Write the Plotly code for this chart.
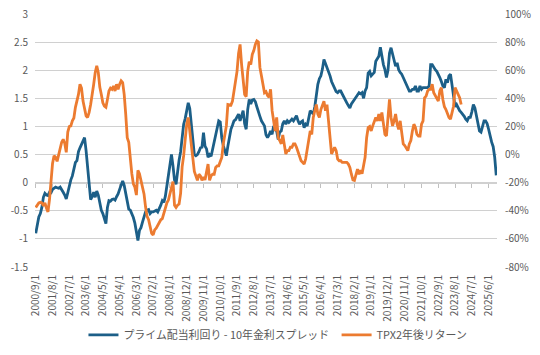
import plotly.graph_objects as go
import pandas as pd

# プライム配当利回り - 10年金利スプレッド (monthly, 2000/9 -)
spread = [
    -0.90, -0.75, -0.61, -0.55, -0.44, -0.26, -0.19, -0.22, -0.23, -0.17,
    -0.18, -0.12, -0.10, -0.08, -0.09, -0.10, -0.08, -0.14, -0.17, -0.22,
    -0.29, -0.18, -0.05, 0.05, 0.12, 0.25, 0.36, 0.39, 0.55, 0.62,
    0.68, 0.74, 0.80, 0.57, 0.27, -0.14, -0.30, -0.25, -0.17, -0.26,
    -0.15, -0.22, -0.38, -0.49, -0.55, -0.65, -0.73, -0.44, -0.32, -0.33,
    -0.30, -0.29, -0.31, -0.25, -0.20, -0.12, -0.05, 0.03, -0.05, -0.20,
    -0.35, -0.47, -0.49, -0.55, -0.62, -0.72, -0.85, -1.03, -0.85, -0.80,
    -0.70, -0.60, -0.52, -0.49, -0.48, -0.55, -0.52, -0.52, -0.50, -0.49,
    -0.52, -0.47, -0.40, -0.32, -0.35, -0.24, -0.05, 0.12, 0.27, 0.50,
    0.30, 0.05, -0.03, 0.25, 0.40, 0.55, 0.80, 1.04, 1.14, 1.26,
    1.42, 1.32, 1.08, 0.85, 0.50, 0.48, 0.50, 0.55, 0.62, 0.63,
    0.89, 0.65, 0.60, 0.45, 0.50, 0.47, 0.60, 0.75, 0.82, 0.98,
    1.10, 1.08, 0.80, 0.66, 0.57, 0.48, 0.65, 0.82, 0.95, 1.02,
    1.10, 1.12, 1.16, 1.22, 1.10, 1.22, 1.28, 1.05, 0.95, 1.30,
    1.48, 1.40, 1.47, 1.48, 1.44, 1.35, 1.28, 1.18, 1.10, 1.04,
    1.01, 0.85, 0.80, 0.85, 0.92, 0.86, 1.01, 0.95, 0.92, 0.77,
    0.90, 0.92, 1.05, 1.10, 1.04, 1.10, 1.07, 1.10, 1.13, 1.10,
    1.16, 1.19, 1.10, 1.04, 1.08, 1.10, 0.98, 1.04, 1.01, 1.16,
    1.28, 1.25, 1.22, 1.35, 1.55, 1.75, 1.85, 1.90, 2.02, 2.19,
    2.12, 2.05, 1.98, 1.90, 1.80, 1.74, 1.66, 1.62, 1.60, 1.63,
    1.63, 1.57, 1.52, 1.46, 1.42, 1.37, 1.33, 1.40, 1.45, 1.48,
    1.52, 1.57, 1.60, 1.58, 1.60, 1.50, 1.63, 1.69, 1.95, 1.98,
    1.90, 1.93, 1.96, 2.16, 2.22, 2.25, 2.41, 2.25, 2.10, 2.01,
    1.87, 2.00, 2.30, 2.40, 2.30, 2.16, 2.07, 2.13, 2.01, 1.96,
    1.93, 1.87, 1.81, 1.75, 1.66, 1.63, 1.63, 1.66, 1.66, 1.72,
    1.63, 1.63, 1.72, 1.66, 1.69, 1.69, 1.69, 1.69, 1.72, 2.10,
    2.10, 2.04, 2.01, 1.98, 1.93, 1.87, 1.80, 1.72, 1.69, 1.84,
    1.78, 1.90, 1.93, 1.75, 1.55, 1.35, 1.39, 1.33, 1.28, 1.25,
    1.22, 1.18, 1.13, 1.10, 1.16, 1.16, 1.26, 1.39, 1.33, 1.18,
    1.05, 0.92, 0.90, 1.01, 1.10, 1.10, 1.05, 0.95, 0.80, 0.72,
    0.64, 0.45, 0.13,
]

# TPX2年後リターン (%), monthly, 2000/9 -
tpx = [
    -37.6, -36, -34.4, -34, -34.4, -36.4, -34.4, -38, -40.8, -32,
    -18, -6.4, -0.8, -2, -4.8, 0, 6.4, 8.8, 10.8, 8,
    1.6, 16, 20, 20.4, 24, 26, 33.6, 38, 42.8, 50,
    47.2, 38, 31.2, 27.6, 26.4, 30, 35.6, 42, 50, 58.4,
    63.2, 58.4, 48, 42.8, 36.8, 34.4, 33.6, 39.2, 45.2, 47.2,
    46.4, 48.8, 45.2, 50, 46.4, 50, 52.4, 51.2, 42.8, 28.8,
    12, 8.8, -6, -13.6, -20.8, -23.2, -28.8, -11.2, -13.6, -18,
    -23.2, -28, -37.2, -44, -46.4, -51.2, -56, -57.2, -53.6, -52.4,
    -50, -47.6, -46.4, -45.6, -42, -37.2, -34.4, -32.4, -28, -22,
    -19.2, -36, -37.6, -36, -35.2, -27.6, -8.8, -0.8, 12, 21.6,
    26.4, 16.8, 8, -2, -12, -15.2, -18.4, -14, -15.2, -18.4,
    -16, -18, -11.6, -6.8, -18.4, -15.2, -14, -14, -9.2, -8,
    -8, -5.6, -2, 7.6, 14.4, 20.4, 35.6, 35.6, 35.2, 38,
    45.2, 54.8, 59.2, 72, 78.4, 64, 50, 42.8, 41.2, 59.2,
    66, 64, 71.2, 74, 78.4, 80.8, 80, 62, 56, 50,
    44, 44.8, 42, 40.8, 46.4, 31.2, 24, 16.8, 26.4, 12,
    10, 7.6, 14, 8, 0.4, 2.8, 2.8, 5.2, 5.2, 7.6,
    7.6, 5.2, 1.6, -2, -4.4, -5.6, -6.8, -3.2, 2.8, 10,
    16.8, 14.4, 26.4, 31.2, 35.6, 28.8, 26.4, 32, 35.6, 38,
    31.2, 35.6, 24, 12, 0.4, 2.8, 5.2, 2.8, -3.2, -4.4,
    -4.4, -5.6, -5.6, -5.6, -5.6, -6.8, -9.2, -14, -18, -18.4,
    -14, -10.4, -14, -11.2, -13.6, -6.8, -2, 12, 19.2, 20,
    16.8, 20.4, 24, 26.4, 24, 28.8, 24, 30, 22, 14.4,
    13.2, 24, 39.2, 26.4, 20.4, 24, 28.8, 21.6, 18, 24,
    14.4, 7.6, 6.4, 4, 2.8, 7.6, 10, 16.8, 21.6, 19.2,
    14.4, 13.2, 13.2, 21.6, 24, 40.4, 41.6, 45.2, 46.4, 46.4,
    50, 44, 42, 40.4, 38, 45.2, 47.6, 39.2, 34, 32,
    28.8, 26.4, 25.2, 31.2, 34.4, 47.6, 45.2, 42.8, 40.4, 35.6,
]

dates = [f"{d.year}/{d.month}/1" for d in pd.date_range("2000-09-01", periods=len(spread), freq="MS")]
tick_labels = dates[::11]

left_ticks = [3, 2.5, 2, 1.5, 1, 0.5, 0, -0.5, -1, -1.5]
right_ticks = [100, 80, 60, 40, 20, 0, -20, -40, -60, -80]

BLUE = "#1c5f88"
ORANGE = "#ec7b30"
GRID = "#d0d0d0"
TXT = "#595959"
FONT = "Noto Sans CJK JP"

fig = go.Figure()
# invisible helper trace for the category axis drawn at the zero line
fig.add_trace(go.Scatter(x=dates, y=spread, xaxis="x2", yaxis="y", mode="lines",
                         line=dict(width=0), showlegend=False, hoverinfo="skip"))
fig.add_trace(go.Scatter(x=dates, y=spread, name="プライム配当利回り - 10年金利スプレッド\u00a0",
                         mode="lines", line=dict(color=BLUE, width=2.8)))
fig.add_trace(go.Scatter(x=dates[:len(tpx)], y=tpx, name="TPX2年後リターン", yaxis="y2",
                         mode="lines", line=dict(color=ORANGE, width=2.8)))

rng = [-0.5, len(dates) - 0.5]
fig.update_layout(
    width=540, height=355,
    margin=dict(l=34.5, r=43, t=13.5, b=88, autoexpand=False),
    paper_bgcolor="white", plot_bgcolor="white",
    font=dict(family=FONT, size=10, color=TXT),
    xaxis=dict(type="category", range=rng, tickmode="array", tickvals=tick_labels,
               ticktext=tick_labels, tickangle=-90, showgrid=False, showline=False,
               zeroline=False, ticks="outside", ticklen=3, tickcolor="rgba(0,0,0,0)",
               tickfont=dict(size=10, color=TXT), automargin=False),
    xaxis2=dict(type="category", overlaying="x", anchor="free", position=1.5 / 4.5,
                range=rng, tickmode="array", tickvals=tick_labels, showticklabels=False,
                showgrid=False, showline=True, linecolor=GRID, linewidth=1,
                ticks="outside", ticklen=4, tickcolor="#c0c0c0", layer="below traces",
                automargin=False),
    yaxis=dict(range=[-1.5, 3], tickmode="array", tickvals=left_ticks,
               ticktext=[f"{v:g}" for v in left_ticks], showgrid=True, gridcolor=GRID,
               gridwidth=1, zeroline=False, showline=False, ticks="outside", ticklen=4,
               tickcolor="rgba(0,0,0,0)", tickfont=dict(size=10, color=TXT), automargin=False),
    yaxis2=dict(range=[-80, 100], overlaying="y", side="right", tickmode="array",
                tickvals=right_ticks, ticktext=[f"{v}%" for v in right_ticks],
                showgrid=False, zeroline=False, showline=False, ticks="outside",
                ticklen=5, tickcolor="rgba(0,0,0,0)", tickfont=dict(size=10, color=TXT),
                automargin=False),
    legend=dict(orientation="h", x=(83 - 34.5) / 462.3, xanchor="left", y=-0.268,
                yanchor="middle", font=dict(size=10.9, color=TXT), itemwidth=30,
                bgcolor="rgba(0,0,0,0)"),
    showlegend=True,
)

fig.write_html("out.html", config={"displayModeBar": False},
               post_script="document.body.style.margin='0';document.body.style.padding='0';")
